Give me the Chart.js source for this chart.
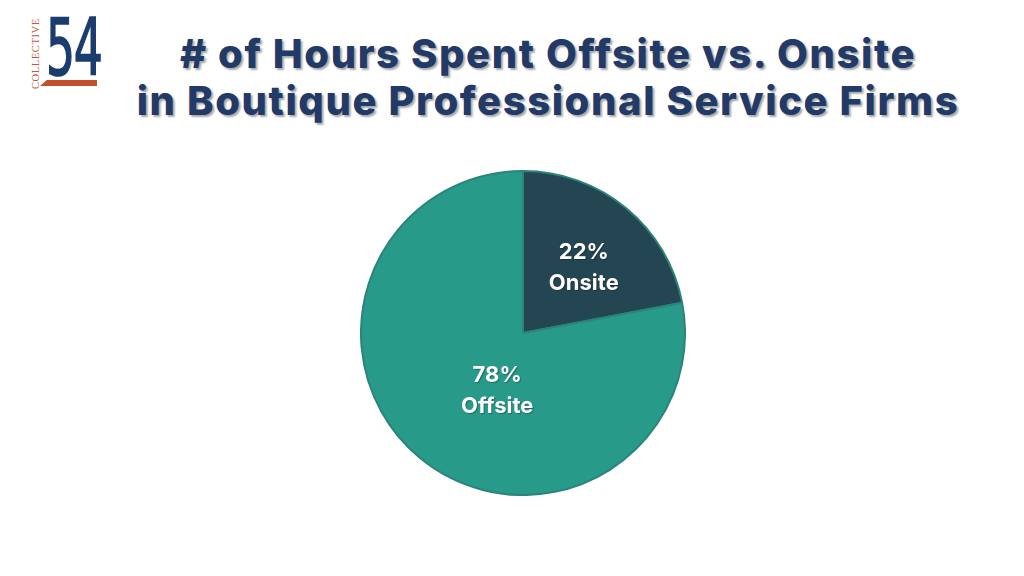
<!DOCTYPE html>
<html>
<head>
<meta charset="utf-8">
<script src="https://cdn.jsdelivr.net/npm/chart.js@4/dist/chart.umd.min.js"></script>
<style>
  html, body { margin: 0; padding: 0; background: #ffffff; }
  #stage { position: relative; width: 1024px; height: 576px; overflow: hidden; background: #fff; }
  #title {
    position: absolute; left: 0; top: 30px; width: 1096px; text-align: center;
    font-family: "Inter", "Open Sans", sans-serif; font-weight: 800; font-size: 40px; line-height: 47px;
    color: #223a68; text-shadow: 2px 2px 2px rgba(0,0,0,0.35); letter-spacing: 1.6px;
  }
  #chartBox { position: absolute; left: 360px; top: 170px; width: 326px; height: 326px; }
  #logo54 { position: absolute; left: 46px; top: 9px; font-family: "Liberation Sans Narrow", "DejaVu Sans Condensed", sans-serif;
    font-size: 78px; line-height: 78px; color: #1b3d6e; letter-spacing: -2px; transform: scaleX(0.65); transform-origin: left top; -webkit-text-stroke: 1.5px #1b3d6e; }
  #logoCol { position: absolute; left: 30px; top: 89px; transform: rotate(-90deg); transform-origin: left top;
    font-family: "Liberation Serif", serif; font-size: 10.5px; color: #c0573a; letter-spacing: 0.6px; white-space: nowrap; }
  #logoBar { position: absolute; left: 40px; top: 80px; width: 57px; height: 6px; background: #c0502e;
    clip-path: polygon(12% 0, 100% 0, 100% 100%, 0 100%); }
</style>
</head>
<body>
<div id="stage">
  <div id="logo54">54</div>
  <div id="logoCol">COLLECTIVE</div>
  <div id="logoBar"></div>
  <div id="title"># of Hours Spent Offsite vs. Onsite<br>in Boutique Professional Service Firms</div>
  <div id="chartBox"><canvas id="c"></canvas></div>
</div>
<script>
const categories = ["Onsite", "Offsite"];
const values = [22, 78];
const sliceColors = ["#244652", "#289a8a"];
const labelTexts = ["22%", "78%"];

const labelPlugin = {
  id: 'sliceLabels',
  afterDatasetsDraw(chart) {
    const ctx = chart.ctx;
    const meta = chart.getDatasetMeta(0);
    const fracs = [0.55, 0.39];
    const angleShift = [0.06, -0.27];
    meta.data.forEach((arc, i) => {
      const p = arc.getProps(['x','y','startAngle','endAngle','outerRadius'], true);
      const mid = (p.startAngle + p.endAngle) / 2 + angleShift[i];
      const r = p.outerRadius * fracs[i];
      const x = p.x + Math.cos(mid) * r;
      const y = p.y + Math.sin(mid) * r;
      ctx.save();
      ctx.fillStyle = '#ffffff';
      ctx.font = '700 22px Inter, "Open Sans", sans-serif';
      ctx.textAlign = 'center';
      ctx.textBaseline = 'middle';
      ctx.shadowColor = 'rgba(0,0,0,0.3)';
      ctx.shadowOffsetX = 1; ctx.shadowOffsetY = 1; ctx.shadowBlur = 1;
      ctx.fillText(labelTexts[i], x, y - 15);
      ctx.fillText(categories[i], x, y + 16);
      ctx.restore();
    });
  }
};

new Chart(document.getElementById('c'), {
  type: 'pie',
  data: {
    labels: categories,
    datasets: [{
      data: values,
      backgroundColor: sliceColors,
      borderColor: ["#2a8479", "#2a8479"],
      borderWidth: 2
    }]
  },
  options: {
    responsive: true,
    maintainAspectRatio: false,
    animation: false,
    layout: { padding: 0 },
    plugins: { legend: { display: false }, tooltip: { enabled: false }, title: { display: false } }
  },
  plugins: [labelPlugin]
});
</script>
</body>
</html>
